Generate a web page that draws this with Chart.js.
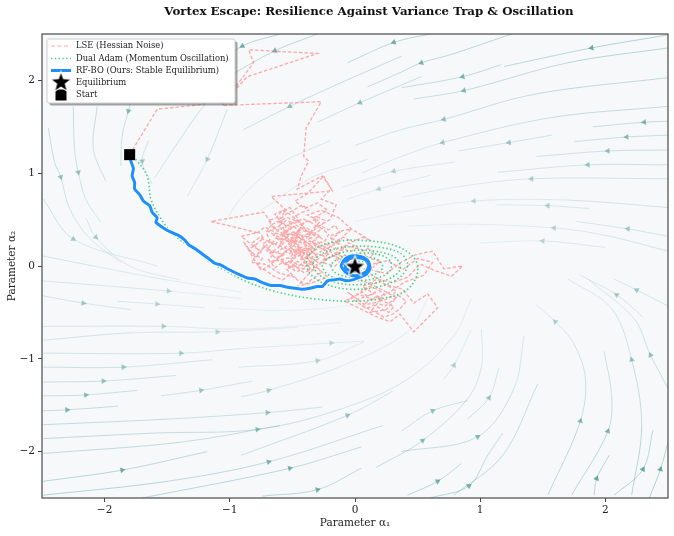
<!DOCTYPE html>
<html>
<head>
<meta charset="utf-8">
<script src="https://cdn.jsdelivr.net/npm/chart.js@4.4.1/dist/chart.umd.min.js"></script>
<style>
  html, body { margin: 0; padding: 0; background: #fff; }
  #wrap { width: 674px; height: 536px; }
</style>
</head>
<body>
<div id="wrap"><canvas id="chart" width="674" height="536"></canvas></div>
<script>
// ---- data ----
const titleText = 'Vortex Escape: Resilience Against Variance Trap & Oscillation';
const xLabel = 'Parameter α₁';
const yLabel = 'Parameter α₂';
const tickValues = [-2, -1, 0, 1, 2];
const tickLabels = ['−2', '−1', '0', '1', '2'];
const seriesNames = ['LSE (Hessian Noise)', 'Dual Adam (Momentum Oscillation)', 'RF-BO (Ours: Stable Equilibrium)', 'Equilibrium', 'Start'];

const startPoint = [-1.8, 1.2];
const equilibrium = [0, 0];

// LSE: noisy dashed walk
const lsePath = [
  [-1.80,1.20],[-1.58,1.69],[-1.22,1.74],[-0.97,1.90],[-0.81,2.19],[-0.85,2.33],[-0.30,2.29],[-0.86,2.04],
  [-0.97,1.88],[-1.06,1.73],[-0.27,1.77],[-0.39,1.49],[-0.41,1.18],[-0.37,1.13],[-0.43,0.97],[-0.46,0.83],
  [-0.26,0.97],[-0.18,0.81],[-0.67,0.75],[-0.55,0.60],
  [-0.62,0.48],[-0.50,0.42],[-0.58,0.33],[-0.44,0.38],[-0.49,0.25],[-0.63,0.30],[-0.70,0.18],[-0.57,0.12],
  [-0.66,0.05],[-0.52,0.09],[-0.45,0.20],[-0.36,0.14],[-0.42,0.02],[-0.55,-0.03],[-0.48,-0.12],[-0.60,-0.08],
  [-0.72,0.02],[-0.83,0.04],[-0.75,0.15],[-0.91,0.32],[-0.78,0.36],[-1.15,0.48],[-0.73,0.58],[-0.66,0.45],
  [-0.54,0.52],[-0.41,0.46],[-0.47,0.35],[-0.35,0.30],[-0.28,0.39],[-0.33,0.52],[-0.22,0.60],[-0.30,0.68],
  [-0.40,0.62],[-0.48,0.70],[-0.38,0.78],[-0.25,0.97],[-0.19,0.83],[-0.27,0.72],[-0.15,0.66],[-0.20,0.50],
  [-0.31,0.41],[-0.40,0.28],[-0.52,0.35],[-0.61,0.22],[-0.50,0.16],[-0.39,0.22],[-0.30,0.10],[-0.43,0.07],
  [-0.44,0.21],[-0.50,0.27],[-0.46,0.32],[-0.40,0.26],[-0.35,0.31],[-0.39,0.37],[-0.46,0.40],[-0.52,0.46],
  [-0.57,0.40],[-0.53,0.31],[-0.59,0.26],[-0.65,0.33],[-0.61,0.39],[-0.67,0.44],[-0.71,0.36],[-0.68,0.28],
  [-0.74,0.24],[-0.70,0.16],[-0.63,0.14],[-0.58,0.19],[-0.53,0.13],[-0.47,0.17],[-0.42,0.11],[-0.37,0.17],
  [-0.31,0.20],[-0.34,0.26],[-0.29,0.32],[-0.24,0.27],[-0.21,0.34],[-0.26,0.40],[-0.32,0.44],[-0.37,0.49],
  [-0.43,0.45],[-0.49,0.52],[-0.44,0.57],[-0.37,0.60],[-0.42,0.66],[-0.48,0.61],[-0.55,0.56],[-0.60,0.50],
  [-0.56,0.44],[-0.50,0.38],[-0.45,0.30],[-0.49,0.22],[-0.55,0.16],[-0.60,0.10],[-0.56,0.03],[-0.50,0.06],
  [-0.45,0.00],[-0.39,0.04],[-0.33,0.00],[-0.37,0.07],[-0.31,0.13],[-0.25,0.11],[-0.21,0.18],[-0.26,0.22],
  [-0.32,0.28],[-0.38,0.22],[-0.44,0.26],[-0.40,0.33],[-0.34,0.38],[-0.41,0.42],[-0.47,0.37],[-0.53,0.24],
  [-0.48,0.14],[-0.43,0.19],
  [-0.38,0.13],[-0.34,0.06],[-0.40,-0.01],[-0.46,0.05],[-0.52,-0.02],[-0.58,0.04],[-0.64,-0.02],[-0.69,0.07],
  [-0.65,0.13],[-0.71,0.21],[-0.77,0.17],[-0.82,0.25],[-0.76,0.31],[-0.70,0.27],[-0.64,0.22],[-0.60,0.30],
  [-0.55,0.34],[-0.61,0.43],[-0.55,0.49],[-0.48,0.46],[-0.42,0.51],[-0.35,0.47],[-0.30,0.53],[-0.24,0.49],
  [-0.27,0.43],[-0.21,0.39],[-0.16,0.44],[-0.12,0.36],[-0.18,0.30],[-0.14,0.24],[-0.19,0.26],[-0.23,0.21],
  [-0.28,0.15],[-0.23,0.08],[-0.28,0.02],[-0.35,0.09],[-0.41,0.15],[-0.47,0.09],[-0.53,0.18],[-0.58,0.13],
  [-0.63,0.08],[-0.68,0.14],[-0.62,0.19],[-0.56,0.26],[-0.50,0.31],[-0.44,0.36],[-0.49,0.43],[-0.55,0.38],
  [-0.60,0.33],[-0.66,0.38],[-0.72,0.42],[-0.77,0.37],[-0.73,0.30],[-0.79,0.23],[-0.85,0.18],[-0.80,0.12],
  [-0.74,0.08],[-0.78,0.00],[-0.71,-0.05],[-0.65,-0.11],[-0.58,-0.15],[-0.52,-0.09],[-0.46,-0.15],[-0.40,-0.20],
  [-0.33,-0.13],[-0.27,-0.07],[-0.31,0.01],[-0.25,0.05],[-0.19,0.10],[-0.24,0.16],[-0.30,0.23],[-0.36,0.27],
  [-0.42,0.24],[-0.47,0.27],[-0.52,0.21],[-0.47,0.15],[-0.41,0.08],[-0.36,0.12],[-0.32,0.18],[-0.37,0.24],
  [-0.43,0.30],[-0.38,0.34],[-0.32,0.36],[-0.27,0.31],[-0.33,0.33],[-0.40,0.40],[-0.46,0.48],[-0.51,0.55],
  [-0.58,0.60],[-0.63,0.52],[-0.69,0.49],[-0.65,0.41],[-0.59,0.36],[-0.54,0.29],[-0.48,0.25],[-0.43,0.17],
  [-0.38,0.19],[-0.33,0.14],[-0.29,0.08],[-0.35,0.03],[-0.41,-0.03],[-0.47,-0.06],[-0.53,0.00],[-0.49,0.08],
  [-0.44,0.12],
  [-0.35,-0.04],[-0.50,-0.01],[-0.62,0.07],[-0.75,-0.05],[-0.89,0.26],[-0.80,0.10],[-0.68,0.26],[-0.56,0.20],
  [-0.46,0.29],[-0.58,0.41],[-0.45,0.50],[-0.52,0.63],[-0.64,0.56],[-0.58,0.45],[-0.69,0.37],[-0.55,0.27],
  [-0.42,0.33],[-0.48,0.12],[-0.36,0.19],[-0.27,0.26],[-0.18,0.20],[-0.25,0.07],[-0.13,0.13],[-0.20,0.32],
  [-0.10,0.38],[-0.03,0.40],[-0.12,0.28],[-0.24,0.17],[-0.33,0.24],[-0.44,0.16],[-0.53,0.05],[-0.41,-0.07],
  [-0.30,-0.02],[-0.22,-0.12],[-0.34,-0.18],[-0.46,-0.22],[-0.38,-0.10],[-0.27,0.04],[-0.16,0.00],[-0.08,0.09],
  [-0.19,0.15],[-0.29,0.20],[-0.38,0.10],[-0.49,0.22],[-0.57,0.36],[-0.47,0.44],[-0.36,0.36],[-0.28,0.48],
  [-0.38,0.55],[-0.27,0.60],[-0.13,0.52],[-0.03,0.40],[0.13,0.27],
  [0.06,0.31],[-0.02,0.26],[-0.09,0.31],[-0.15,0.27],[-0.10,0.20],[-0.04,0.15],[0.02,0.20],[-0.05,0.25],
  [-0.12,0.17],[-0.18,0.12],[-0.13,0.05],[-0.08,0.12],[-0.02,0.08],[0.04,0.14],[0.10,0.19],[0.16,0.14],
  [0.10,0.08],[0.05,0.18],[-0.07,0.22],[-0.15,0.10],
  [-0.05,0.03],[0.08,0.10],[0.20,0.05],[0.12,-0.04],[0.25,-0.08],[0.37,0.04],[0.48,0.12],[0.62,0.16],
  [0.71,-0.03],[0.86,0.00],[0.77,-0.11],[0.64,-0.05],[0.52,0.02],[0.42,-0.12],[0.30,-0.18],[0.18,-0.14],
  [0.06,-0.22],[0.15,-0.30],[0.02,-0.36],[-0.06,-0.28],[0.08,-0.42],[0.20,-0.38],
  [0.16,-0.28],[0.10,-0.33],[0.05,-0.27],[0.11,-0.22],[0.18,-0.25],[0.24,-0.31],[0.19,-0.36],[0.26,-0.40],
  [0.31,-0.44],[0.27,-0.50],[0.21,-0.46],[0.15,-0.42],[0.09,-0.46],[0.03,-0.40],[-0.03,-0.35],[0.02,-0.31],
  [0.08,-0.26],[0.14,-0.20],[0.20,-0.16],[0.27,-0.22],[0.33,-0.27],[0.29,-0.33],[0.23,-0.37],[0.17,-0.33],
  [0.11,-0.37],[0.06,-0.43],[0.12,-0.47],[0.18,-0.51],[0.23,-0.55],[0.30,-0.52],[0.36,-0.46],[0.41,-0.38],
  [0.35,-0.32],[0.30,-0.37],[0.24,-0.43],[0.18,-0.40],
  [0.12,-0.50],[0.25,-0.47],[0.33,-0.34],[0.22,-0.26],[0.10,-0.18],[-0.02,-0.12],[0.12,-0.08],[0.24,-0.20],
  [0.38,-0.25],[0.47,-0.40],[0.58,-0.30],[0.66,-0.45],[0.47,-0.71],[0.36,-0.52],[0.28,-0.60],[0.16,-0.54],
  [0.04,-0.46],[-0.08,-0.38],[0.02,-0.30],[0.14,-0.36],[0.28,-0.28],[0.40,-0.17],[0.55,-0.10],[0.62,0.04],
  [0.50,0.08],[0.38,-0.04],[0.26,0.06],[0.14,0.02],[0.04,-0.06],[-0.08,-0.02],[0.00,0.05]
];

// Dual Adam: dotted spiral
const adamPath = [
  [-1.80,1.20],[-1.74,1.13],[-1.66,0.97],[-1.63,0.72],[-1.55,0.51],[-1.45,0.34],[-1.26,0.15],[-1.13,0.02],
  [-1.02,-0.06],[-0.88,-0.16],[-0.65,-0.27],[-0.35,-0.35],[-0.03,-0.38],[0.22,-0.35],[0.39,-0.28],[0.48,-0.15],
  [0.50,0.00],[0.45,0.12],[0.32,0.22],[0.12,0.27],[-0.12,0.27],[-0.30,0.20],[-0.38,0.08],[-0.37,-0.06],
  [-0.26,-0.18],[-0.05,-0.25],[0.20,-0.22],[0.36,-0.12],[0.42,0.02],[0.36,0.14],[0.20,0.20],[-0.02,0.21],
  [-0.22,0.16],[-0.33,0.05],[-0.30,-0.08],[-0.15,-0.18],[0.05,-0.20],[0.25,-0.15],[0.36,-0.04],[0.33,0.08],
  [0.20,0.15],[0.02,0.17],[-0.16,0.12],[-0.26,0.02],[-0.22,-0.09],[-0.08,-0.15],[0.10,-0.15],[0.26,-0.08],
  [0.29,0.03],[0.22,0.11],[0.06,0.14],[-0.10,0.10],[-0.19,0.01],[-0.15,-0.08],[-0.02,-0.12],[0.14,-0.10],
  [0.22,-0.02],[0.18,0.07],[0.05,0.10],[-0.07,0.07],[-0.12,0.00],[-0.07,-0.06],[0.04,-0.07],[0.12,-0.03],
  [0.10,0.04],[0.02,0.05]
];

// RF-BO: thick blue path settling on the equilibrium
const rfboPath = [
  [-1.80,1.20],[-1.79,1.13],[-1.77,1.05],[-1.78,0.97],[-1.76,0.90],[-1.76,0.83],[-1.72,0.77],[-1.69,0.70],
  [-1.64,0.65],[-1.62,0.58],[-1.58,0.52],[-1.59,0.47],[-1.53,0.41],[-1.48,0.37],[-1.41,0.33],[-1.36,0.28],
  [-1.33,0.23],[-1.27,0.18],[-1.22,0.13],[-1.17,0.08],[-1.12,0.03],[-1.07,0.01],[-1.02,-0.03],[-0.96,-0.07],
  [-0.91,-0.10],[-0.86,-0.13],[-0.80,-0.14],[-0.74,-0.18],[-0.67,-0.21],[-0.60,-0.21],[-0.54,-0.23],[-0.48,-0.24],
  [-0.42,-0.25],[-0.36,-0.24],[-0.30,-0.22],[-0.26,-0.22],[-0.22,-0.16],[-0.17,-0.15],[-0.12,-0.14],[-0.07,-0.16],
  [-0.02,-0.15],[0.04,-0.12],[0.09,-0.09],[0.12,-0.03],[0.11,0.04],[0.07,0.09],[0.01,0.11],[-0.05,0.10],
  [-0.09,0.06],[-0.11,0.00],[-0.08,-0.06],[-0.03,-0.10],[0.03,-0.10],[0.09,-0.06],[0.11,0.01],[0.08,0.07],
  [0.02,0.09],[-0.04,0.08],[-0.08,0.03],[-0.07,-0.03],[-0.02,-0.06],[0.03,-0.04],[0.02,0.01],[0.00,0.00]
];

// background stream lines, points in flow order, arrow = indices carrying an arrowhead
const streams = [
  // upper band, flowing left
  {pts: [[2.5,2.49],[1.89,2.35],[1.19,2.15]], arrow: [1]},
  {pts: [[1.25,2.5],[0.77,2.28],[0.53,2.19],[0.37,2.09],[0.1,1.93]], arrow: [2]},
  {pts: [[1.17,2.17],[0.86,2.04],[0.37,1.92]], arrow: [1]},
  {pts: [[2.5,2.35],[1.70,2.19],[0.87,1.89],[0.47,1.80]], arrow: [2]},
  {pts: [[2.5,2.03],[1.43,1.85],[0.71,1.58],[0.37,1.47],[0.0,1.3]], arrow: [2]},
  {pts: [[2.5,1.72],[1.57,1.60],[0.70,1.33],[0.37,1.18],[0.05,1.0]], arrow: [2]},
  {pts: [[1.57,1.41],[1.23,1.33],[0.83,1.24]], arrow: [1]},
  {pts: [[2.5,1.41],[2.17,1.39],[1.75,1.34]], arrow: [1]},
  {pts: [[2.5,1.56],[2.31,1.55],[1.90,1.50]], arrow: [1]},
  {pts: [[2.5,1.25],[2.02,1.24],[1.45,1.18]], arrow: [1]},
  {pts: [[2.5,1.09],[1.86,1.09],[1.14,1.01]], arrow: [1]},
  {pts: [[2.5,0.94],[1.41,0.94],[0.80,0.85],[0.37,0.74]], arrow: [1]},
  {pts: [[2.5,0.63],[1.70,0.71],[0.95,0.70],[0.37,0.58],[0.0,0.48]], arrow: [2]},
  {pts: [[1.87,0.62],[1.54,0.65],[1.13,0.66]], arrow: [1]},
  {pts: [[2.5,0.16],[2.0,0.33],[1.59,0.41],[0.9,0.45],[0.43,0.43]], arrow: [2]},
  {pts: [[2.5,0.32],[2.18,0.40],[1.77,0.48]], arrow: [1]},
  {pts: [[2.0,0.20],[1.5,0.27],[1.0,0.25]], arrow: [1]},
  {pts: [[0.6,2.5],[0.31,2.41],[-0.06,2.19]], arrow: [1]},
  {pts: [[0.37,2.26],[-0.17,1.94],[-0.52,1.72],[-0.89,1.47]], arrow: [2]},
  {pts: [[0.53,2.04],[0.04,1.76],[-0.30,1.55]], arrow: [1]},
  {pts: [[-0.3,2.5],[-0.64,2.32],[-1.0,2.05]], arrow: [1]},
  {pts: [[-0.6,2.5],[-0.9,2.37],[-1.3,2.0]], arrow: [1]},
  {pts: [[0.8,1.12],[0.31,1.02],[-0.1,0.85]], arrow: [1]},
  {pts: [[0.61,0.98],[0.19,0.83],[-0.06,0.72]], arrow: [1]},
  // left side, flowing down
  {pts: [[-2.25,1.72],[-2.24,1.26],[-2.21,1.01],[-2.15,0.72],[-2.03,0.47]], arrow: [2]},
  {pts: [[-2.06,1.72],[-2.09,1.26],[-1.99,0.91]], arrow: []},
  {pts: [[-1.75,2.0],[-1.81,1.67],[-1.86,1.40],[-1.87,1.08]], arrow: [1]},
  {pts: [[-2.45,1.49],[-2.40,1.12],[-2.35,0.96],[-2.28,0.62],[-2.12,0.30],[-1.87,0.04]], arrow: [2]},
  {pts: [[-2.49,0.72],[-2.25,0.29],[-1.58,0.0]], arrow: [1]},
  {pts: [[-2.15,0.52],[-2.07,0.31],[-1.80,0.0],[-1.4,-0.15]], arrow: [1]},
  {pts: [[-1.65,1.35],[-1.70,1.13],[-1.62,0.88]], arrow: [1]},
  {pts: [[-1.0,2.0],[-1.21,1.72],[-1.45,1.26],[-1.60,0.95]], arrow: []},
  {pts: [[-1.02,1.69],[-1.18,1.15],[-1.34,0.75]], arrow: [1]},
  {pts: [[-0.2,1.35],[-0.6,1.1],[-0.9,0.75],[-1.05,0.45]], arrow: []},
  {pts: [[0.1,1.15],[-0.35,0.95],[-0.75,0.6]], arrow: []},
  // lower band, flowing right
  {pts: [[-2.5,0.11],[-2.09,0.0],[-1.5,-0.15],[-0.91,-0.28]], arrow: []},
  {pts: [[-2.5,-0.16],[-1.49,-0.27],[-0.91,-0.35]], arrow: [1]},
  {pts: [[-2.5,-0.32],[-2.17,-0.40],[-1.79,-0.47]], arrow: [1]},
  {pts: [[-1.9,-0.38],[-1.58,-0.41],[-1.2,-0.45]], arrow: [1]},
  {pts: [[-2.5,-0.65],[-1.53,-0.65],[-0.91,-0.68],[-0.11,-0.61]], arrow: [1]},
  {pts: [[-2.49,-0.80],[-1.79,-0.72],[-1.10,-0.71],[-0.46,-0.66]], arrow: [2]},
  {pts: [[-2.49,-0.94],[-1.39,-0.94],[-0.91,-0.89],[-0.19,-0.83],[0.07,-0.81]], arrow: [1, 3]},
  {pts: [[-2.49,-1.09],[-1.85,-1.09],[-1.14,-1.01]], arrow: [1]},
  {pts: [[-0.93,-1.09],[-0.30,-1.02],[0.07,-0.82]], arrow: [1]},
  {pts: [[-2.49,-1.25],[-2.01,-1.24],[-1.43,-1.18]], arrow: [1]},
  {pts: [[-1.55,-1.40],[-1.23,-1.34],[-0.82,-1.24]], arrow: [1]},
  {pts: [[-2.49,-1.40],[-2.15,-1.39],[-1.74,-1.34]], arrow: [1]},
  {pts: [[-2.49,-1.56],[-2.30,-1.55],[-1.89,-1.51]], arrow: [1]},
  {pts: [[-0.91,-1.41],[-0.69,-1.34],[-0.11,-1.08],[0.42,-0.71],[0.58,-0.35]], arrow: [1]},
  {pts: [[-2.49,-1.71],[-1.5,-1.65],[-0.70,-1.58],[-0.26,-1.52]], arrow: [2]},
  {pts: [[-2.49,-1.86],[-1.6,-1.80],[-0.78,-1.76],[-0.11,-1.54],[0.42,-1.22],[0.79,-0.75],[0.93,-0.35]], arrow: [2]},
  {pts: [[-0.91,-2.04],[-0.06,-1.61],[0.3,-1.35]], arrow: [1]},
  {pts: [[-2.49,-2.02],[-1.4,-1.90],[-0.6,-1.72]], arrow: []},
  {pts: [[-2.49,-2.32],[-1.86,-2.20],[-1.18,-2.0]], arrow: [1]},
  {pts: [[-2.49,-2.47],[-1.5,-2.32],[-0.69,-2.11],[0.22,-1.72]], arrow: [2]},
  {pts: [[-1.7,-2.5],[-0.52,-2.18],[0.05,-1.95]], arrow: [1]},
  {pts: [[-0.74,-2.48],[-0.30,-2.41],[0.05,-2.18]], arrow: [1]},
  {pts: [[-1.1,-0.45],[-0.6,-0.48],[-0.2,-0.45],[0.2,-0.38]], arrow: []},
  // right side, flowing up
  {pts: [[0.71,-1.22],[0.79,-1.07],[0.93,-0.68]], arrow: [1]},
  {pts: [[0.37,-1.78],[0.62,-1.56],[0.90,-1.45]], arrow: [1]},
  {pts: [[0.17,-2.17],[0.54,-1.88],[0.90,-1.43],[1.01,-1.08],[1.01,-0.68]], arrow: [1]},
  {pts: [[0.37,-2.0],[0.98,-1.84],[1.27,-1.32],[1.35,-0.75]], arrow: [1]},
  {pts: [[0.42,-2.47],[0.66,-2.32],[0.85,-2.13]], arrow: [1]},
  {pts: [[0.6,-2.5],[0.91,-2.37],[1.06,-2.04],[1.18,-1.80]], arrow: [1]},
  {pts: [[0.79,-2.47],[1.18,-2.04],[1.46,-1.27]], arrow: []},
  {pts: [[0.9,-1.65],[1.07,-1.42],[1.15,-1.1]], arrow: [1]},
  {pts: [[1.54,-2.47],[1.80,-1.67],[1.84,-1.20],[1.74,-0.82],[1.60,-0.60],[1.45,-0.42]], arrow: [1, 4]},
  {pts: [[1.73,-2.47],[2.02,-1.78],[2.05,-1.40],[1.99,-0.92]], arrow: [1]},
  {pts: [[1.91,-2.47],[1.93,-2.29],[2.03,-2.04]], arrow: [1]},
  {pts: [[2.07,-2.47],[2.30,-2.19],[2.38,-1.77]], arrow: [1]},
  {pts: [[2.35,-2.5],[2.44,-2.19],[2.5,-1.9]], arrow: [1]},
  {pts: [[2.21,-2.47],[2.29,-1.72],[2.21,-1.01],[2.05,-0.46],[1.70,-0.14]], arrow: [2]},
  {pts: [[2.5,-1.32],[2.36,-0.96],[2.23,-0.57],[1.86,-0.14]], arrow: [1]},
  {pts: [[2.5,-0.43],[2.25,-0.26],[2.07,-0.14]], arrow: [1]},
  {pts: [[2.3,-0.55],[2.09,-0.31],[1.8,-0.1]], arrow: [1]}
];

// ---- helpers ----
const toXY = arr => arr.map(p => ({x: p[0], y: p[1]}));
const speed = (x, y) => Math.hypot(0.6 * x, y);
const teal = a => `rgba(52,140,132,${a.toFixed(3)})`;

function makeStar(size) {
  const c = document.createElement('canvas');
  c.width = size; c.height = size;
  const g = c.getContext('2d');
  const cx = size / 2, cy = size / 2 + 1, R = size / 2 - 1.5, r = R * 0.42;
  g.beginPath();
  for (let i = 0; i < 10; i++) {
    const ang = -Math.PI / 2 + i * Math.PI / 5;
    const rr = i % 2 === 0 ? R : r;
    g.lineTo(cx + rr * Math.cos(ang), cy + rr * Math.sin(ang));
  }
  g.closePath();
  g.fillStyle = '#000';
  g.fill();
  g.strokeStyle = '#fff';
  g.lineWidth = 1.2;
  g.stroke();
  return c;
}
const starImg = makeStar(25);

const streamSets = streams.map(s => ({
  data: toXY(s.pts),
  showLine: true,
  pointRadius: 0,
  borderWidth: 1,
  tension: 0.35,
  segment: {
    borderColor: ctx => {
      const a = ctx.p0.parsed, b = ctx.p1.parsed;
      const v = speed((a.x + b.x) / 2, (a.y + b.y) / 2);
      return teal(Math.min(0.4, Math.max(0.05, 0.01 + 0.12 * v)));
    }
  },
  order: 10
}));

const arrowHeads = [];
streams.forEach(s => s.arrow.forEach(i => {
  const p = s.pts[i];
  const a = s.pts[Math.max(0, i - 1)], b = s.pts[Math.min(s.pts.length - 1, i + 1)];
  arrowHeads.push({x: p[0], y: p[1], x1: a[0], y1: a[1], x2: b[0], y2: b[1]});
}));

const arrowSet = {
  data: arrowHeads,
  showLine: false,
  pointStyle: 'triangle',
  pointRadius: 3.4,
  borderWidth: 0,
  backgroundColor: ctx => {
    const r = ctx.raw;
    if (!r) return teal(0.5);
    return teal(Math.min(0.8, Math.max(0.15, 0.08 + 0.24 * speed(r.x, r.y))));
  },
  rotation: ctx => {
    const r = ctx.raw;
    if (!r) return 0;
    const sx = ctx.chart.scales.x, sy = ctx.chart.scales.y;
    const dx = sx.getPixelForValue(r.x2) - sx.getPixelForValue(r.x1);
    const dy = sy.getPixelForValue(r.y2) - sy.getPixelForValue(r.y1);
    return Math.atan2(dx, -dy) * 180 / Math.PI;
  },
  order: 9
};

const datasets = [
  ...streamSets,
  arrowSet,
  {label: seriesNames[0], data: toXY(lsePath), showLine: true, pointRadius: 0, borderWidth: 1.3,
   borderColor: 'rgba(255,120,120,0.62)', borderDash: [3.5, 2], tension: 0, order: 5},
  {label: seriesNames[1], data: toXY(adamPath), showLine: true, pointRadius: 0, borderWidth: 1.6,
   borderColor: 'rgba(46,204,113,0.9)', borderDash: [1.4, 2.4], tension: 0.35, order: 4},
  {data: toXY(rfboPath), showLine: true, pointRadius: 0, borderWidth: 5,
   borderColor: 'rgba(255,255,255,0.9)', tension: 0.2, order: 3},
  {label: seriesNames[2], data: toXY(rfboPath), showLine: true, pointRadius: 0, borderWidth: 3,
   borderColor: '#1e8fff', tension: 0.2, borderCapStyle: 'round', borderJoinStyle: 'round', order: 2},
  {label: seriesNames[3], data: toXY([equilibrium]), pointStyle: starImg, pointRadius: 12, order: 1},
  {label: seriesNames[4], data: toXY([startPoint]), pointStyle: 'rect', pointRadius: 7.8,
   backgroundColor: '#000', borderColor: '#000', borderWidth: 0, order: 1}
];

// ---- plugins ----
const plotBg = {
  id: 'plotBg',
  beforeDatasetsDraw(chart) {
    const {ctx, chartArea: a} = chart;
    ctx.save();
    ctx.fillStyle = '#f6f8fa';
    ctx.fillRect(a.left, a.top, a.right - a.left, a.bottom - a.top);
    ctx.restore();
  },
  afterDatasetsDraw(chart) {
    const {ctx, chartArea: a} = chart;
    ctx.save();
    ctx.strokeStyle = '#4a4a4a';
    ctx.lineWidth = 1.2;
    ctx.strokeRect(a.left, a.top, a.right - a.left, a.bottom - a.top);
    ctx.restore();
  }
};

const titlePlugin = {
  id: 'titlePlugin',
  afterDraw(chart) {
    const {ctx} = chart;
    ctx.save();
    ctx.font = 'bold 11.8px "DejaVu Serif"';
    ctx.fillStyle = '#111';
    ctx.textAlign = 'center';
    ctx.textBaseline = 'middle';
    ctx.fillText(titleText, 369, 12);
    ctx.restore();
  }
};

const legendBox = {
  id: 'legendBox',
  afterDraw(chart) {
    const {ctx, chartArea: a} = chart;
    const x = a.left + 5, y = a.top + 5, w = 188, h = 64;
    const rr = (px, py) => {
      ctx.beginPath();
      if (ctx.roundRect) ctx.roundRect(px, py, w, h, 2); else ctx.rect(px, py, w, h);
    };
    ctx.save();
    rr(x + 2.5, y + 2.5);
    ctx.fillStyle = 'rgba(90,90,90,0.55)';
    ctx.fill();
    rr(x, y);
    ctx.fillStyle = '#fff';
    ctx.fill();
    ctx.strokeStyle = '#cfcfcf';
    ctx.lineWidth = 1;
    ctx.stroke();

    const rows = [y + 7, y + 19.5, y + 31.5, y + 43.5, y + 56];
    const lx0 = x + 4, lx1 = x + 24, mx = x + 14;
    ctx.strokeStyle = 'rgba(255,120,120,0.65)';
    ctx.lineWidth = 1;
    ctx.setLineDash([4, 2.5]);
    ctx.beginPath(); ctx.moveTo(lx0, rows[0]); ctx.lineTo(lx1, rows[0]); ctx.stroke();
    ctx.strokeStyle = 'rgba(46,204,113,0.9)';
    ctx.lineWidth = 1.6;
    ctx.setLineDash([1.4, 2.4]);
    ctx.beginPath(); ctx.moveTo(lx0, rows[1]); ctx.lineTo(lx1, rows[1]); ctx.stroke();
    ctx.setLineDash([]);
    ctx.strokeStyle = '#1e8fff';
    ctx.lineWidth = 3;
    ctx.beginPath(); ctx.moveTo(lx0, rows[2]); ctx.lineTo(lx1, rows[2]); ctx.stroke();
    ctx.fillStyle = '#000';
    ctx.fillRect(mx - 5.5, rows[4] - 5.5, 11, 11);
    ctx.drawImage(starImg, mx - 12.5, rows[3] - 13.5);

    ctx.fillStyle = '#222';
    ctx.font = '8.4px "DejaVu Serif"';
    ctx.textAlign = 'left';
    ctx.textBaseline = 'middle';
    seriesNames.forEach((n, i) => ctx.fillText(n, x + 29, rows[i]));
    ctx.restore();
  }
};

// ---- chart ----
Chart.defaults.font.family = '"DejaVu Serif", serif';
Chart.defaults.color = '#222';

new Chart(document.getElementById('chart'), {
  type: 'scatter',
  data: {datasets},
  options: {
    responsive: false,
    animation: false,
    layout: {autoPadding: false, padding: {top: 34, right: 6, left: 0, bottom: 0}},
    plugins: {legend: {display: false}, tooltip: {enabled: false}},
    scales: {
      x: {
        type: 'linear', min: -2.5, max: 2.5,
        afterFit: s => { s.height = 38; s.paddingLeft = 0; s.paddingRight = 0; },
        afterBuildTicks: s => { s.ticks = tickValues.map(v => ({value: v})); },
        ticks: {callback: v => tickLabels[tickValues.indexOf(v)], font: {size: 10.5}, padding: 2, maxRotation: 0},
        grid: {drawOnChartArea: false, tickLength: 4, color: '#444'},
        border: {display: false},
        title: {display: true, text: xLabel, font: {size: 10.5}, padding: {top: 0, bottom: 6}}
      },
      y: {
        type: 'linear', min: -2.5, max: 2.5,
        afterFit: s => { s.width = 42; s.paddingTop = 0; s.paddingBottom = 0; },
        afterBuildTicks: s => { s.ticks = tickValues.map(v => ({value: v})); },
        ticks: {callback: v => tickLabels[tickValues.indexOf(v)], font: {size: 10.5}, padding: 3},
        grid: {drawOnChartArea: false, tickLength: 4, color: '#444'},
        border: {display: false},
        title: {display: true, text: yLabel, font: {size: 10.5}, padding: {top: 6, bottom: 0}}
      }
    }
  },
  plugins: [plotBg, titlePlugin, legendBox]
});
</script>
</body>
</html>
